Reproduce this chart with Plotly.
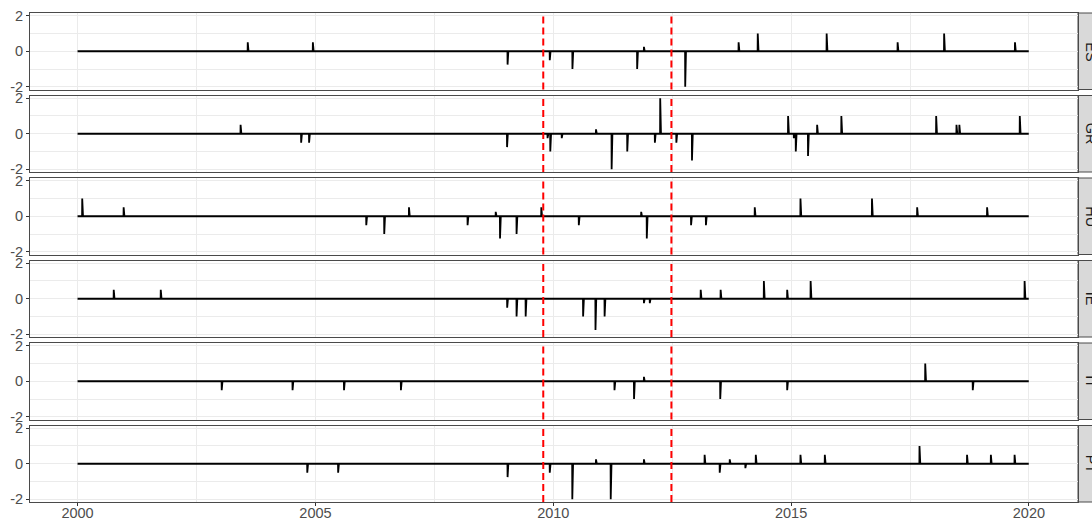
import pandas as pd
import plotly.graph_objects as go

# Rating-change events per country: dates and signed changes
countries = ["ES", "GR", "HU", "IE", "IT", "PT"]

es_dates = ["2003-07-31", "2004-12-12", "2009-01-15", "2009-12-05", "2010-05-28",
            "2011-10-07", "2011-11-28", "2012-10-10", "2013-11-24", "2014-04-20",
            "2015-10-01", "2017-03-29", "2018-03-21", "2019-09-16"]
es_values = [0.5, 0.5, -0.75, -0.5, -1, -1, 0.25, -2, 0.5, 1, 1, 0.5, 1, 0.5]

gr_dates = ["2003-06-06", "2004-09-13", "2004-11-13", "2009-01-11", "2009-11-18",
            "2009-12-09", "2010-03-07", "2010-11-25", "2011-03-25", "2011-07-23",
            "2012-02-20", "2012-04-01", "2012-08-03", "2012-12-01", "2014-12-09",
            "2015-01-22", "2015-02-06", "2015-05-11", "2015-07-20", "2016-01-22",
            "2018-01-19", "2018-06-24", "2018-07-16", "2019-10-23"]
gr_values = [0.5, -0.5, -0.5, -0.75, -0.25, -1, -0.25, 0.25, -2, -1,
             -0.5, 2, -0.5, -1.5, 1, -0.25, -1, -1.25, 0.5, 1,
             1, 0.5, 0.5, 1]

hu_dates = ["2000-02-06", "2000-12-20", "2006-01-26", "2006-06-13", "2006-12-20",
            "2008-03-14", "2008-10-16", "2008-11-18", "2009-03-25", "2009-10-01",
            "2010-07-16", "2011-11-07", "2011-12-20", "2012-11-24", "2013-03-18",
            "2014-03-28", "2015-03-14", "2016-09-13", "2017-08-26", "2019-02-14"]
hu_values = [1, 0.5, -0.5, -1, 0.5, -0.5, 0.25, -1.25, -1, 0.5,
             -0.5, 0.25, -1.25, -0.5, -0.5, 0.5, 1, 1, 0.5, 0.5]

ie_dates = ["2000-10-05", "2001-10-01", "2009-01-12", "2009-03-25", "2009-06-03",
            "2010-08-18", "2010-11-21", "2011-01-30", "2011-11-28", "2012-01-12",
            "2013-02-06", "2013-07-09", "2014-06-06", "2014-12-02", "2015-05-31",
            "2019-11-29"]
ie_values = [0.5, 0.5, -0.5, -1, -1, -1, -1.75, -1, -0.25, -0.25,
             0.5, 0.5, 1, 0.5, 1, 1]

it_dates = ["2003-01-12", "2004-07-09", "2005-08-08", "2006-10-19", "2011-04-16",
            "2011-09-13", "2011-11-28", "2013-07-06", "2014-12-02", "2017-10-27",
            "2018-10-27"]
it_values = [-0.5, -0.5, -0.5, -0.5, -0.5, -1, 0.25, -1, -0.5, 1, -0.5]

pt_dates = ["2004-10-30", "2005-06-24", "2009-01-15", "2009-12-05", "2010-05-27",
            "2010-11-25", "2011-03-18", "2011-11-28", "2013-03-08", "2013-07-02",
            "2013-09-17", "2014-01-15", "2014-04-05", "2015-03-14", "2015-09-17",
            "2017-09-13", "2018-09-13", "2019-03-15", "2019-09-13"]
pt_values = [-0.5, -0.5, -0.75, -0.5, -2, 0.25, -2, 0.25, 0.5, -0.5,
             0.25, -0.25, 0.5, 0.5, 0.5, 1, 0.5, 0.5, 0.5]

events = {
    "ES": (es_dates, es_values),
    "GR": (gr_dates, gr_values),
    "HU": (hu_dates, hu_values),
    "IE": (ie_dates, ie_values),
    "IT": (it_dates, it_values),
    "PT": (pt_dates, pt_values),
}

# Crisis period markers
crisis_dates = ["2009-10-16", "2012-06-26"]

x_tick_vals = ["2000-01-01", "2005-01-01", "2010-01-01", "2015-01-01", "2020-01-01"]
x_tick_text = ["2000", "2005", "2010", "2015", "2020"]
x_minor_vals = ["2002-07-02", "2007-07-02", "2012-07-02", "2017-07-02"]
y_tick_vals = [-2, 0, 2]
y_tick_text = ["-2", "0", "2"]

# Page geometry (pixels)
W, H = 1092, 520
left, right_edge = 30, 1078
top, bottom_edge = 13, 502
panel_h, gap = 76.5, 6.0
strip_w = 26

FONT = "Liberation Sans"
AXIS_COL = "#4D4D4D"
GRID_COL = "#EBEBEB"
BORDER_COL = "#4a4a4a"

daily = pd.date_range("2000-01-01", "2019-12-31", freq="D")

fig = go.Figure()
layout = dict(
    width=W, height=H,
    margin=dict(l=left, r=W - right_edge, t=top, b=H - bottom_edge, autoexpand=False),
    paper_bgcolor="white", plot_bgcolor="white",
    showlegend=False,
    font=dict(family=FONT, size=14.5, color=AXIS_COL),
)
shapes, annotations = [], []
plot_h = bottom_edge - top

for i, c in enumerate(countries):
    n = i + 1
    xa = "x" if n == 1 else f"x{n}"
    ya = "y" if n == 1 else f"y{n}"
    dates, vals = events[c]
    s = pd.Series(0.0, index=daily)
    for d, v in zip(dates, vals):
        s[pd.Timestamp(d)] = v
    fig.add_trace(go.Scatter(
        x=s.index, y=s.values, mode="lines",
        line=dict(color="black", width=1.8),
        xaxis=xa, yaxis=ya, hoverinfo="skip",
    ))

    p_top = top + i * (panel_h + gap)
    p_bot = p_top + panel_h
    dom = [(bottom_edge - p_bot) / plot_h, (bottom_edge - p_top) / plot_h]
    last = (i == len(countries) - 1)

    layout["xaxis" if n == 1 else f"xaxis{n}"] = dict(
        type="date", range=["1999-01-01", "2021-01-12"],
        anchor=ya, matches=None if n == 1 else "x",
        tickmode="array", tickvals=x_tick_vals, ticktext=x_tick_text,
        showticklabels=last, ticks="outside" if last else "",
        ticklen=3, tickcolor="#333333", tickwidth=1,
        ticklabelstandoff=-5,
        showgrid=True, gridcolor=GRID_COL, gridwidth=1.1,
        minor=dict(tickmode="array", tickvals=x_minor_vals, showgrid=True,
                   gridcolor=GRID_COL, gridwidth=0.6, ticks=""),
        showline=True, mirror=True, linecolor=BORDER_COL, linewidth=1,
        zeroline=False, tickfont=dict(family=FONT, size=14.5, color=AXIS_COL),
        automargin=False,
    )
    layout["yaxis" if n == 1 else f"yaxis{n}"] = dict(
        domain=dom, range=[-2.15, 2.15], anchor=xa,
        tickmode="array", tickvals=y_tick_vals, ticktext=y_tick_text,
        ticks="outside", ticklen=3, tickcolor="#333333", tickwidth=1,
        showgrid=True, gridcolor=GRID_COL, gridwidth=1.1,
        minor=dict(tickmode="array", tickvals=[-1, 1], showgrid=True,
                   gridcolor=GRID_COL, gridwidth=0.6, ticks=""),
        showline=True, mirror=True, linecolor=BORDER_COL, linewidth=1,
        zeroline=False, tickfont=dict(family=FONT, size=14.5, color=AXIS_COL),
        automargin=False,
    )

    # dashed crisis markers inside each panel
    for d in crisis_dates:
        shapes.append(dict(
            type="line", xref=xa, yref=f"{ya} domain", x0=d, x1=d, y0=0, y1=1,
            line=dict(color="#FF0000", width=2, dash="7px,4px"), layer="above",
        ))

    # facet strip on the right
    x0 = 1.0
    x1 = 1.0 + strip_w / (right_edge - left)
    shapes.append(dict(
        type="rect", xref="paper", yref="paper", x0=x0, x1=x1, y0=dom[0], y1=dom[1],
        fillcolor="#D9D9D9", line=dict(color=BORDER_COL, width=1), layer="below",
    ))
    annotations.append(dict(
        text=c, xref="paper", yref="paper",
        x=(x0 + x1) / 2, y=(dom[0] + dom[1]) / 2,
        showarrow=False, textangle=90, xanchor="center", yanchor="middle",
        font=dict(family=FONT, size=14.5, color="#1A1A1A"),
    ))

layout["shapes"] = shapes
layout["annotations"] = annotations
fig.update_layout(**layout)
fig.write_html("out.html")
